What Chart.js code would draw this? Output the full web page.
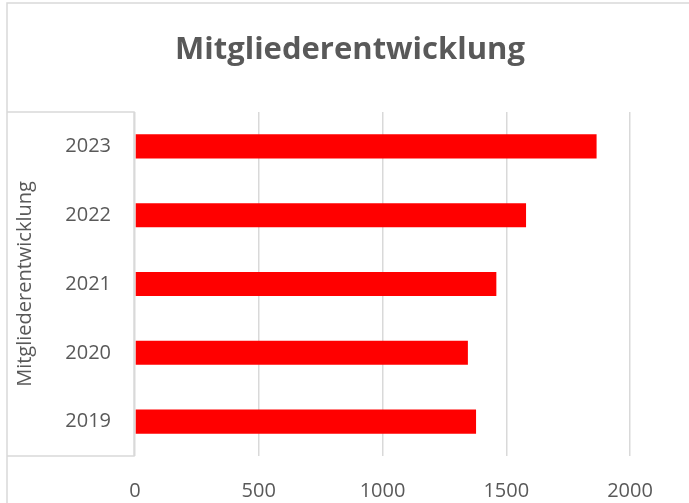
<!DOCTYPE html>
<html>
<head>
<meta charset="utf-8">
<script src="https://cdn.jsdelivr.net/npm/chart.js@4"></script>
<style>
  html, body { margin: 0; padding: 0; background: #fff; }
  #wrap { width: 689px; height: 503px; }
</style>
</head>
<body>
<div id="wrap"><canvas id="myChart1"></canvas></div>
<script>
var years = ['2019', '2020', '2021', '2022', '2023'];
var members = [1378, 1345, 1460, 1580, 1865];
var xTicks = [0, 500, 1000, 1500, 2000];
var chartTitle = 'Mitgliederentwicklung';

var txt = '#595959';
var line = '#d9d9d9';

// frame lines and the title, like the excel chart
var framePlugin = {
  id: 'frame',
  beforeDraw: function (chart) {
    var c = chart.ctx;
    var a = chart.chartArea;
    c.save();
    c.strokeStyle = line;
    c.lineWidth = 1.5;
    c.beginPath();
    c.moveTo(7, 503);
    c.lineTo(7, 3);
    c.lineTo(689, 3);
    c.moveTo(7, a.top);
    c.lineTo(a.left - 1, a.top);
    c.lineTo(a.left - 1, a.bottom);
    c.lineTo(7, a.bottom);
    c.stroke();
    c.fillStyle = txt;
    c.font = 'bold 31px "Open Sans"';
    c.textAlign = 'center';
    c.textBaseline = 'middle';
    c.fillText(chartTitle, 350, 50);
    c.restore();
  }
};

var ctx = document.getElementById('myChart1');
var myChart = new Chart(ctx, {
  type: 'bar',
  data: {
    labels: years,
    datasets: [
      {
        data: members,
        label: chartTitle,
        backgroundColor: '#ff0000',
        barPercentage: 0.7,
        categoryPercentage: 0.5
      }
    ]
  },
  options: {
    indexAxis: 'y',
    responsive: true,
    maintainAspectRatio: false,
    animation: false,
    layout: { padding: { left: 0, right: 59, top: 112, bottom: 0 } },
    plugins: {
      legend: { display: false },
      tooltip: { enabled: false },
      title: { display: false }
    },
    scales: {
      x: {
        min: 0,
        max: 2000,
        afterBuildTicks: function (scale) {
          scale.ticks = xTicks.map(function (v) { return { value: v }; });
        },
        afterFit: function (scale) { scale.height = 47; },
        border: { display: false },
        grid: { color: line, lineWidth: 1.5, drawTicks: false },
        ticks: {
          color: txt,
          padding: 23,
          font: { family: 'Open Sans', size: 20 },
          callback: function (v) { return String(v); }
        }
      },
      y: {
        reverse: true,
        afterFit: function (scale) { scale.width = 135; },
        border: { display: false },
        grid: { display: false, drawTicks: false },
        ticks: {
          color: txt,
          padding: 24,
          font: { family: 'Open Sans', size: 20 }
        },
        title: {
          display: true,
          text: chartTitle,
          color: txt,
          padding: { top: 13, bottom: 0 },
          font: { family: 'Open Sans', size: 20 }
        }
      }
    }
  },
  plugins: [framePlugin]
});
</script>
</body>
</html>
